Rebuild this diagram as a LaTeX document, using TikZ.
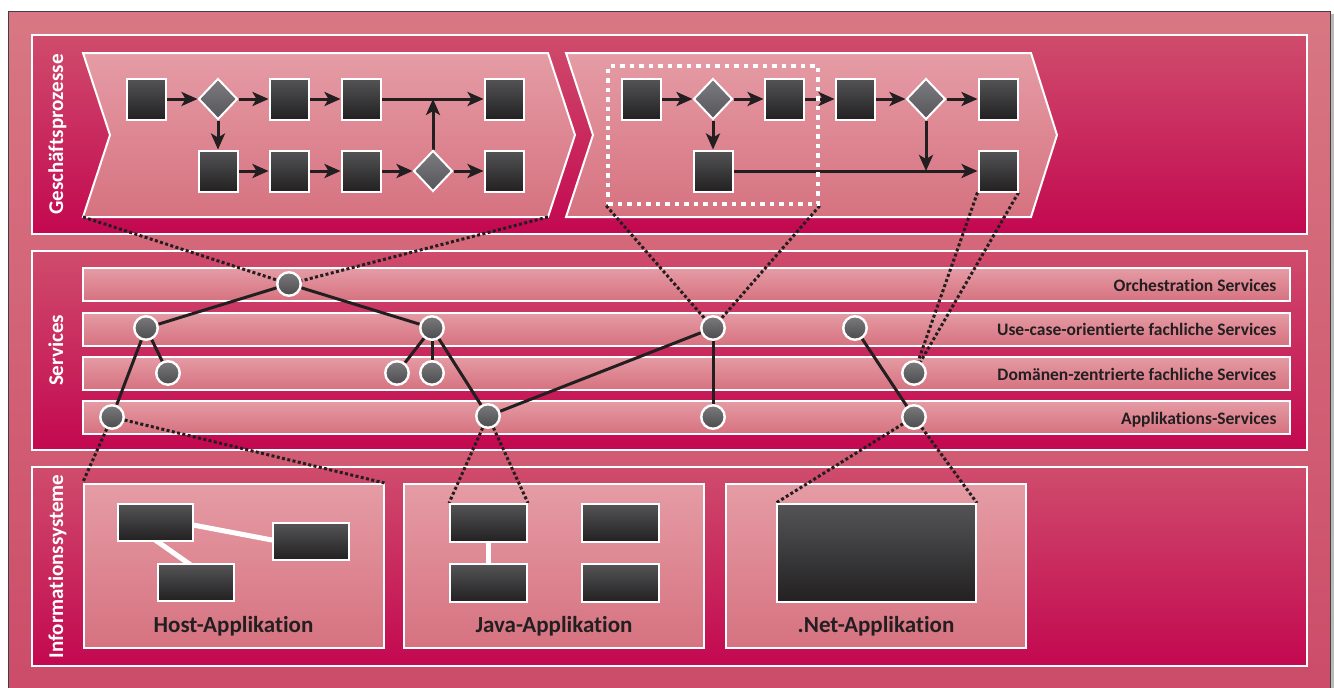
\documentclass[tikz,border=0pt]{standalone}
\usepackage{fontspec}
\setmainfont{Carlito}[Ligatures=NoCommon]
\usetikzlibrary{shapes.geometric,arrows.meta,calc}
\pgfdeclarelayer{back}
\pgfdeclarelayer{links}
\pgfsetlayers{back,links,main}

\definecolor{ink}{HTML}{231F20}
\definecolor{frameTop}{HTML}{D87783}
\definecolor{frameBot}{HTML}{CC4C69}
\definecolor{panelTop}{HTML}{CF4C6C}
\definecolor{panelBot}{HTML}{C30850}
\definecolor{paleTop}{HTML}{E59CA5}
\definecolor{paleBot}{HTML}{D67280}
\definecolor{boxTop}{HTML}{545456}
\definecolor{boxBot}{HTML}{222021}
\definecolor{gemTop}{HTML}{7C7C80}
\definecolor{gemBot}{HTML}{55555A}
\definecolor{dotTop}{HTML}{7A7A7E}
\definecolor{dotBot}{HTML}{4B4B4E}

\tikzset{
  activity/.style={rectangle, draw=white, line width=2pt, top color=boxTop, bottom color=boxBot,
    minimum width=39pt, minimum height=41pt, inner sep=0pt},
  gateway/.style={diamond, draw=white, line width=2pt, top color=gemTop, bottom color=gemBot,
    minimum width=39pt, minimum height=41pt, inner sep=0pt},
  svc/.style={circle, draw=white, line width=2.4pt, top color=dotTop, bottom color=dotBot,
    minimum size=23.5pt, inner sep=0pt},
  module/.style={rectangle, draw=white, line width=2pt, top color=boxTop, bottom color=boxBot,
    inner sep=0pt},
  panel/.style={draw=white, line width=2pt, top color=panelTop, bottom color=panelBot},
  pale/.style={draw=white, line width=2pt, top color=paleTop, bottom color=paleBot},
  layerbar/.style={pale, rectangle, minimum width=1207pt, minimum height=33pt, inner sep=0pt},
  appbox/.style={pale, rectangle, minimum width=300pt, minimum height=164pt, inner sep=0pt},
  selection/.style={rectangle, draw=white, line width=3.5pt, dash pattern=on 4.5pt off 5pt,
    minimum width=210pt, minimum height=138pt, inner sep=0pt},
  flow/.style={draw=ink, line width=3pt, -{Stealth[length=16pt,width=14pt,inset=4pt]}},
  uses/.style={draw=ink, line width=3pt},
  trace/.style={draw=ink, line width=3pt, dash pattern=on 3pt off 2.4pt},
  wire/.style={draw=white, line width=5pt},
  sidelabel/.style={rotate=90, anchor=base, text=white, font=\bfseries\fontsize{21}{24}\selectfont},
  layername/.style={anchor=base east, text=ink, font=\bfseries\fontsize{17.5}{20}\selectfont},
  appname/.style={anchor=base, text=ink, font=\bfseries\fontsize{23}{26}\selectfont},
}

\begin{document}
\begin{tikzpicture}[x=1pt,y=-1pt]
\useasboundingbox (0,0) rectangle (1334,688);

% ---------- background: frame, panels, chevrons, layer bars, application boxes
\begin{pgfonlayer}{back}
  \fill[white] (0,0) rectangle (1334,688);
  \fill[gray!55] (1330,14) rectangle (1334,688);
  \shade[top color=frameTop, bottom color=frameBot] (8,11) rectangle (1330,688);
  \draw[black!75, line width=0.9pt] (8,688) -- (8,11) -- (1330,11) -- (1330,688);

  \path[panel] (32,35) rectangle (1307,234);
  \path[panel] (32,251) rectangle (1307,450);
  \path[panel] (32,467) rectangle (1307,666);

  \path[pale] (83,53) -- (548,53) -- (575,135) -- (548,217) -- (83,217) -- (110,135) -- cycle;
  \path[pale] (566,53) -- (1031,53) -- (1057,135) -- (1031,217) -- (566,217) -- (593,135) -- cycle;
  \coordinate (ch1bl) at (83,217);
  \coordinate (ch1br) at (548,217);

  \node[layerbar] (bar1) at (686.5,284.5) {};
  \node[layerbar] (bar2) at (686.5,329) {};
  \node[layerbar] (bar3) at (686.5,373) {};
  \node[layerbar] (bar4) at (686.5,417) {};

  \node[appbox] (host) at (233.5,566) {};
  \node[appbox] (java) at (554,566) {};
  \node[appbox] (net)  at (876,566) {};
\end{pgfonlayer}

% ---------- panel titles
\node[sidelabel] (tGP) at (63,134.5) {Geschäftsprozesse};
\node[sidelabel] (tSV) at (63,350.5) {Services};
\node[sidelabel] (tIS) at (63,566.5) {Informationssysteme};

% ---------- first process
\node[activity] (a1) at (146,99) {};
\node[gateway]  (g1) at (218,99) {};
\node[activity] (a2) at (289,99) {};
\node[activity] (a3) at (361,99) {};
\node[activity] (a4) at (504,99) {};
\node[activity] (a5) at (218,171) {};
\node[activity] (a6) at (289,171) {};
\node[activity] (a7) at (361,171) {};
\node[gateway]  (g2) at (433,171) {};
\node[activity] (a8) at (504,171) {};
\coordinate (m1) at (g2 |- a3);

% ---------- second process
\node[selection] (sel) at (713,135) {};
\node[activity] (b1) at (641,99) {};
\node[gateway]  (g3) at (713,99) {};
\node[activity] (b2) at (784,99) {};
\node[activity] (b3) at (855,99) {};
\node[gateway]  (g4) at (926,99) {};
\node[activity] (b4) at (998,99) {};
\node[activity] (b5) at (713,171) {};
\node[activity] (b6) at (998,171) {};
\coordinate (m2) at (g4 |- b5);

% ---------- service layers
\node[layername] (l1) at (1280,291.5) {Orchestration Services};
\node[layername] (l2) at (1280,335.5) {Use-case-orientierte fachliche Services};
\node[layername] (l3) at (1280,380) {Domänen-zentrierte fachliche Services};
\node[layername] (l4) at (1280,424) {Applikations-Services};

\node[svc] (s0) at (289,284) {};
\node[svc] (u1) at (146,328) {};
\node[svc] (u2) at (432,328) {};
\node[svc] (u3) at (713,328) {};
\node[svc] (u4) at (855,328) {};
\node[svc] (d1) at (168,373) {};
\node[svc] (d2) at (397,373) {};
\node[svc] (d3) at (432,373) {};
\node[svc] (d4) at (914,373) {};
\node[svc] (p1) at (112,417) {};
\node[svc] (p2) at (488,416) {};
\node[svc] (p3) at (713,417) {};
\node[svc] (p4) at (914,417) {};

% ---------- applications
\node[module, minimum width=75pt, minimum height=37pt] (h1) at (155.5,522.5) {};
\node[module, minimum width=76pt, minimum height=37pt] (h2) at (311,541.5) {};
\node[module, minimum width=76pt, minimum height=37pt] (h3) at (196,582.5) {};
\node[module, minimum width=77pt, minimum height=38pt] (j1) at (488.5,523) {};
\node[module, minimum width=77pt, minimum height=38pt] (j2) at (620.5,523) {};
\node[module, minimum width=77pt, minimum height=38pt] (j3) at (488.5,583) {};
\node[module, minimum width=77pt, minimum height=38pt] (j4) at (620.5,583) {};
\node[module, minimum width=199pt, minimum height=98pt] (n1) at (876.5,553) {};

\node[appname] (tH) at (233.5,632) {Host-Applikation};
\node[appname] (tJ) at (554,632) {Java-Applikation};
\node[appname] (tN) at (876,632) {.Net-Applikation};

% ---------- connectors
\begin{pgfonlayer}{links}
  % process flow, first chevron
  \draw[flow] (a1) -- (g1);
  \draw[flow] (g1) -- (a2);
  \draw[flow] (a2) -- (a3);
  \draw[flow] (a3) -- (a4);
  \draw[flow] (g1) -- (a5);
  \draw[flow] (a5) -- (a6);
  \draw[flow] (a6) -- (a7);
  \draw[flow] (a7) -- (g2);
  \draw[flow] (g2) -- (a8);
  \draw[flow] (g2) -- (m1);
  % process flow, second chevron
  \draw[flow] (b1) -- (g3);
  \draw[flow] (g3) -- (b2);
  \draw[flow] (b2) -- (b3);
  \draw[flow] (b3) -- (g4);
  \draw[flow] (g4) -- (b4);
  \draw[flow] (g3) -- (b5);
  \draw[flow] (b5) -- (b6);
  \draw[flow] (g4) -- (m2);

  % processes mapped to services
  \draw[trace] (ch1bl) -- (s0);
  \draw[trace] (ch1br) -- (s0);
  \draw[trace] (sel.south west) -- (u3);
  \draw[trace] (sel.south east) -- (u3);
  \draw[trace] (b6.south west) -- (d4);
  \draw[trace] (b6.south east) -- (d4);

  % service composition
  \draw[uses] (s0) -- (u1);
  \draw[uses] (s0) -- (u2);
  \draw[uses] (u1) -- (d1);
  \draw[uses] (u1) -- (p1);
  \draw[uses] (u2) -- (d2);
  \draw[uses] (u2) -- (d3);
  \draw[uses] (u2) -- (p2);
  \draw[uses] (p2) -- (u3);
  \draw[uses] (u3) -- (p3);
  \draw[uses] (u4) -- (p4);

  % services realised by applications
  \draw[trace] (p1) -- (host.north west);
  \draw[trace] (p1) -- (host.north east);
  \draw[trace] (p2) -- (j1.north west);
  \draw[trace] (p2) -- (j1.north east);
  \draw[trace] (p4) -- (n1.north west);
  \draw[trace] (p4) -- (n1.north east);

  % links between application modules
  \draw[wire] ($(h1.east)+(-14,0)$) -- ($(h2.west)+(13,1)$);
  \draw[wire] ($(h1.south west)+(24,-12)$) -- ($(h3.north west)+(48,12)$);
  \draw[wire] (j1) -- (j3);
\end{pgfonlayer}
\end{tikzpicture}
\end{document}
